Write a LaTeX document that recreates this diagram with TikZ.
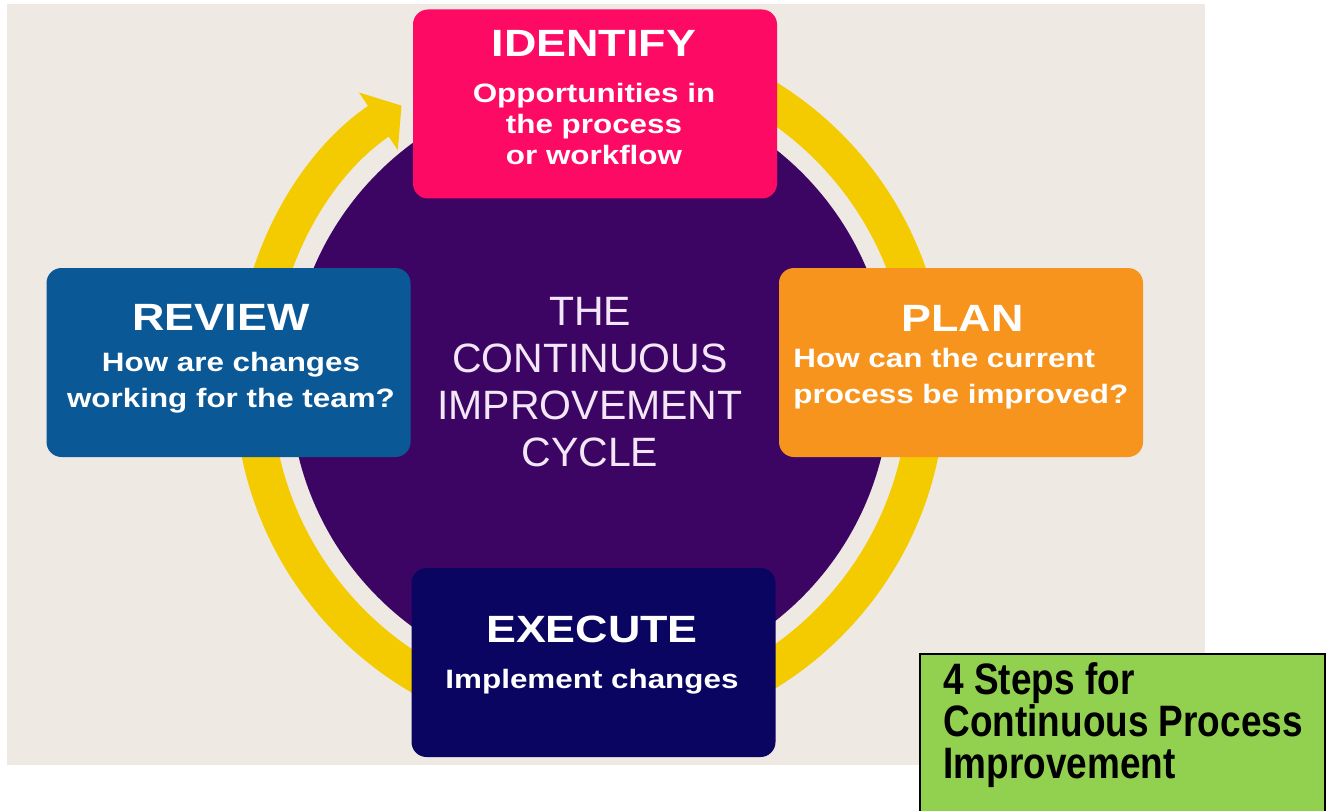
\documentclass[tikz,border=0pt]{standalone}
\usepackage{fontspec}
\setmainfont{Liberation Sans}
\newfontfamily\wideface[FakeStretch=1.18]{Liberation Sans}
\newfontfamily\narrowface[FakeStretch=0.84]{Liberation Sans}
\usetikzlibrary{arrows.meta}

\definecolor{paper}{HTML}{EEE9E3}
\definecolor{ringyellow}{HTML}{F4CB00}
\definecolor{cyclepurple}{HTML}{3C0564}
\definecolor{identifypink}{HTML}{FC0A64}
\definecolor{reviewblue}{HTML}{0B5896}
\definecolor{planorange}{HTML}{F7941E}
\definecolor{executenavy}{HTML}{0A0560}
\definecolor{titlelilac}{HTML}{F3E6F7}
\definecolor{notegreen}{HTML}{92D050}

\begin{document}
\begin{tikzpicture}[x=0.5pt,y=0.5pt,
    stepbox/.style={rounded corners=7.5pt, minimum width=182pt, minimum height=94.5pt, inner sep=0pt},
    head/.style={anchor=base, text=white, inner sep=0pt,
      font=\wideface\bfseries\fontsize{19pt}{19pt}\selectfont},
    body/.style={anchor=base, text=white, inner sep=0pt,
      font=\wideface\bfseries\fontsize{13.3pt}{18pt}\selectfont},
    ring/.style={ringyellow, line width=18.5pt,
      -{Triangle[width=34pt, length=14pt]}}]
\def\rmid{337}
\coordinate (O) at (590,425);

% page and backdrop
\useasboundingbox (0,0) rectangle (1331,810);
\fill[paper] (7,45) rectangle (1205,806);

% yellow cycle arrow, then the disc
\draw[ring] (O) ++(90:\rmid) arc[start angle=90, end angle=-236, radius=\rmid];
\fill[cyclepurple] (O) circle (300);

% the four steps
\node[stepbox, fill=identifypink] (identify) at (595,706) {};
\node[stepbox, fill=reviewblue] (review) at (228.5,447.5) {};
\node[stepbox, fill=planorange] (plan) at (961,447.5) {};
\node[stepbox, fill=executenavy] (execute) at (593.5,147.5) {};

% headings sit on their baselines, multi-line texts on their last line
\node[head] (identifyhead) at (594,753) {IDENTIFY};
\node[body, align=center, font=\wideface\bfseries\fontsize{13.3pt}{15.5pt}\selectfont]
  (identifytext) at (594,645) {Opportunities in\\the process\\or workflow};

\node[head] (reviewhead) at (221,480) {REVIEW};
\node[body, align=center] (reviewtext) at (231,403)
  {How are changes\\working for the team?};

\node[head] (planhead) at (962.5,479) {PLAN};
\node[body, align=left, anchor=base west] (plantext) at (793,407)
  {How can the current\\process be improved?};

\node[head] (executehead) at (592,168) {EXECUTE};
\node[body] (executetext) at (592,122) {Implement changes};

% centre title
\node[text=titlelilac, align=center, inner sep=0pt,
  font=\fontsize{20.5pt}{23.5pt}\selectfont] (title) at (590,428)
  {THE\\CONTINUOUS\\IMPROVEMENT\\CYCLE};

% caption box
\draw[black, line width=1.2pt, fill=notegreen] (920,-5) rectangle (1325,156);
\node[anchor=base west, align=left, inner sep=0pt,
  font=\narrowface\bfseries\fontsize{22pt}{21pt}\selectfont] (caption) at (943,32)
  {4 Steps for\\Continuous Process\\Improvement};
\end{tikzpicture}
\end{document}
